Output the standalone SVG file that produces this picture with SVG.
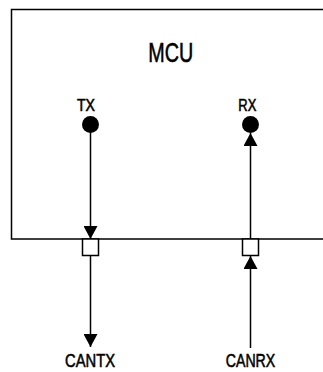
<svg xmlns="http://www.w3.org/2000/svg" width="323" height="372" viewBox="0 0 323 372">
<style>
.ln{stroke:#000;stroke-width:1.5;fill:none}
.t{font-family:"Liberation Sans",Arial,sans-serif;fill:#000;stroke:#000;stroke-width:0.55;text-anchor:middle}
.port{fill:#fff;stroke:#000;stroke-width:1.5}
.pin{fill:#000}
</style>
<defs>
<marker id="ah" markerUnits="userSpaceOnUse" markerWidth="14" markerHeight="14" viewBox="0 0 13 14" refX="13" refY="7" orient="auto">
<path d="M0,0 L13,7 L0,14 Z" fill="#000"/>
</marker>
</defs>
<g id="mcu">
<path class="ln" d="M330,9.5 H11.5 V239 H330"/>
<text class="t" x="170.8" y="61.7" font-size="27" textLength="45" lengthAdjust="spacingAndGlyphs">MCU</text>
</g>
<g id="connectors">
<line class="ln" x1="90.5" y1="124" x2="90.5" y2="239" marker-end="url(#ah)"/>
<line class="ln" x1="90.5" y1="255.5" x2="90.5" y2="347" marker-end="url(#ah)"/>
<line class="ln" x1="250.5" y1="348" x2="250.5" y2="256" marker-end="url(#ah)"/>
<line class="ln" x1="250.5" y1="239" x2="250.5" y2="133" marker-end="url(#ah)"/>
</g>
<g id="tx">
<text class="t" x="86" y="110.5" font-size="16.3" textLength="18" lengthAdjust="spacingAndGlyphs">TX</text>
<circle class="pin" cx="90.5" cy="124.5" r="8.5"/>
</g>
<g id="rx">
<text class="t" x="247.3" y="110.5" font-size="16.3" textLength="18" lengthAdjust="spacingAndGlyphs">RX</text>
<circle class="pin" cx="250.5" cy="124.5" r="8.5"/>
</g>
<g id="port-tx">
<rect class="port" x="82.5" y="239" width="16" height="16.5"/>
</g>
<g id="port-rx">
<rect class="port" x="242.5" y="239" width="16" height="16.5"/>
</g>
<g id="cantx">
<text class="t" x="90" y="366.7" font-size="18.5" textLength="50" lengthAdjust="spacingAndGlyphs">CANTX</text>
</g>
<g id="canrx">
<text class="t" x="250.5" y="366.7" font-size="18.5" textLength="49.5" lengthAdjust="spacingAndGlyphs">CANRX</text>
</g>
</svg>
